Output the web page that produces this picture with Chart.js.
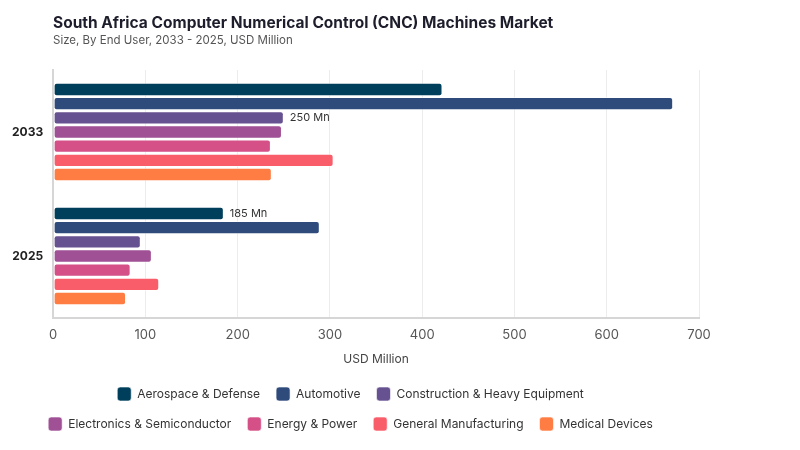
<!DOCTYPE html>
<html>
<head>
<meta charset="utf-8">
<script src="https://cdn.jsdelivr.net/npm/chart.js@4/dist/chart.umd.min.js"></script>
<style>
  body { margin: 0; background: #fff; font-family: Inter, "Noto Sans", sans-serif; }
  #wrap { position: relative; width: 800px; height: 450px; }
  #title { position: absolute; left: 53px; top: 13px; font-size: 15.5px; font-weight: 700; color: #1d1d2b; }
  #subtitle { position: absolute; left: 53px; top: 33px; font-size: 11.5px; color: #555; }
</style>
</head>
<body>
<div id="wrap">
  <canvas id="myChart" width="800" height="450"></canvas>
  <div id="title">South Africa Computer Numerical Control (CNC) Machines Market</div>
  <div id="subtitle">Size, By End User, 2033 - 2025, USD Million</div>
</div>
<script>
const years = ['2033', '2025'];
const endUsers = ['Aerospace & Defense', 'Automotive', 'Construction & Heavy Equipment',
    'Electronics & Semiconductor', 'Energy & Power', 'General Manufacturing', 'Medical Devices'];
const aerospace = [422, 185];
const automotive = [672, 289];
const construction = [250, 95];
const electronics = [248, 107];
const energy = [236, 84];
const generalMfg = [304, 115];
const medical = [237, 79];
const colors = ['#003f5c', '#2f4b7c', '#665191', '#a05195', '#d45087', '#f95d6a', '#ff7c43'];
const xTicks = [0, 100, 200, 300, 400, 500, 600, 700];
// [dataset index, category index, text]
const notes = [[2, 0, '250 Mn'], [0, 1, '185 Mn']];

const seriesValues = [aerospace, automotive, construction, electronics, energy, generalMfg, medical];

const noteLabels = {
    id: 'noteLabels',
    afterDatasetsDraw(chart) {
        const ctx = chart.ctx;
        ctx.save();
        ctx.font = '11px Inter, sans-serif';
        ctx.fillStyle = '#333';
        ctx.textBaseline = 'middle';
        notes.forEach(([ds, idx, text]) => {
            const bar = chart.getDatasetMeta(ds).data[idx];
            ctx.fillText(text, bar.x + 6, bar.y);
        });
        ctx.restore();
    }
};

const ctx = document.getElementById('myChart').getContext('2d');
new Chart(ctx, {
    type: 'bar',
    data: {
        labels: years,
        datasets: endUsers.map((name, i) => ({
            label: name,
            data: seriesValues[i],
            backgroundColor: colors[i],
            borderColor: 'rgba(255,255,255,0.6)',
            borderWidth: 1,
            borderRadius: 3,
            borderSkipped: false,
            categoryPercentage: 0.8,
            barPercentage: 0.94
        }))
    },
    options: {
        indexAxis: 'y',
        responsive: false,
        animation: false,
        layout: { padding: { top: 70, left: 2, right: 101, bottom: 9 } },
        scales: {
            x: {
                min: 0,
                max: 700,
                afterBuildTicks: axis => { axis.ticks = xTicks.map(v => ({ value: v })); },
                grid: { color: '#ececec', drawTicks: false },
                border: { color: '#d6d6d6', width: 2 },
                ticks: { color: '#555', font: { family: 'Inter', size: 13 }, padding: 9 },
                title: { display: true, text: 'USD Million', color: '#444', font: { family: 'Inter', size: 12 }, padding: { top: 1, bottom: 4 } }
            },
            y: {
                grid: { display: false, drawTicks: false },
                border: { color: '#d6d6d6', width: 2 },
                ticks: { color: '#222', font: { family: 'Inter', size: 12, weight: 'bold' }, padding: 10 }
            }
        },
        plugins: {
            legend: {
                position: 'bottom',
                labels: {
                    boxWidth: 14,
                    boxHeight: 14,
                    useBorderRadius: true,
                    borderRadius: 3,
                    padding: 16,
                    color: '#333',
                    font: { family: 'Inter', size: 12 }
                }
            },
            tooltip: { enabled: false }
        }
    },
    plugins: [noteLabels]
});
</script>
</body>
</html>
